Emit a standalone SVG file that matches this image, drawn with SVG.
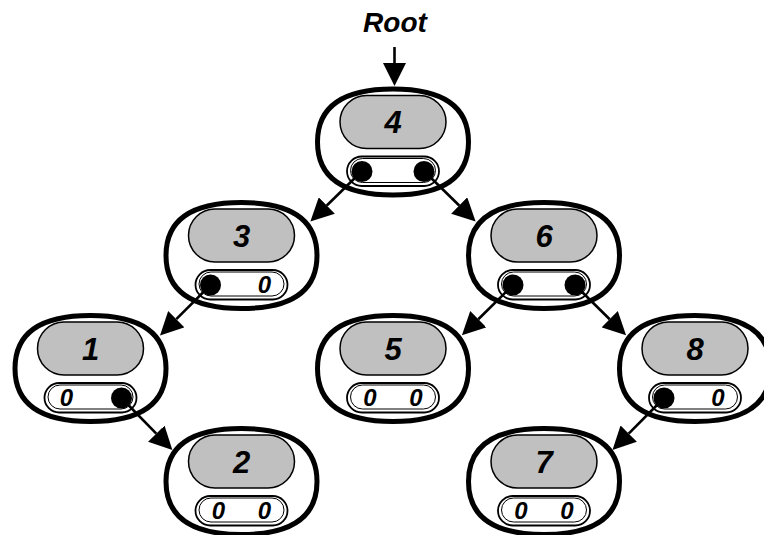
<svg xmlns="http://www.w3.org/2000/svg" width="764" height="535" viewBox="0 0 764 535">
<style>
.outer{fill:#fff;stroke:#000;stroke-width:5}
.key{fill:#c0c0c0;stroke:#000;stroke-width:1.5}
.ptr{fill:#fff;stroke:#000;stroke-width:1.8}
.ptr2{fill:none;stroke:#000;stroke-width:1}
.dot{fill:#000}
.lbl{font-family:"Liberation Sans",Arial,sans-serif;font-weight:bold;font-style:italic;font-size:31px;text-anchor:middle;fill:#000}
.nil{font-family:"Liberation Sans",Arial,sans-serif;font-weight:bold;font-style:italic;font-size:24px;text-anchor:middle;fill:#000}
.conn{stroke:#000;stroke-width:2.6;fill:none;marker-end:url(#ah)}
</style>
<defs>
<marker id="ah" markerUnits="userSpaceOnUse" markerWidth="23" markerHeight="23" viewBox="0 0 23 23" refX="0" refY="11.5" orient="auto">
<path d="M0,0 L23,11.5 L0,23 z" fill="#000"/>
</marker>
<g id="shell">
<path class="outer" d="M75.5,20 C75.5,55 50.5,73 0,73 C-50.5,73 -75.5,55 -75.5,20 C-75.5,-15 -50.5,-33 0,-33 C50.5,-33 75.5,-15 75.5,20 Z"/>
<rect class="key" x="-53" y="-26.5" width="106" height="53" rx="26.5"/>
<rect class="ptr" x="-46" y="34.5" width="92" height="29.5" rx="14.75"/>
<rect class="ptr2" x="-42.5" y="36.5" width="85" height="24" rx="12"/>
</g>
</defs>
<text x="395" y="32" class="lbl" style="font-size:28px">Root</text>
<g id="node4" transform="translate(393,122)">
<use href="#shell"/>
<text class="lbl" x="0" y="11">4</text>
<circle class="dot" cx="-31" cy="49.5" r="10.5"/>
<circle class="dot" cx="31" cy="49.5" r="10.5"/>
</g>
<g id="node3" transform="translate(241.5,235.5)">
<use href="#shell"/>
<text class="lbl" x="0" y="11">3</text>
<circle class="dot" cx="-31" cy="49.5" r="10.5"/>
<text class="nil" x="23" y="57">0</text>
</g>
<g id="node6" transform="translate(544,235.5)">
<use href="#shell"/>
<text class="lbl" x="0" y="11">6</text>
<circle class="dot" cx="-31" cy="49.5" r="10.5"/>
<circle class="dot" cx="31" cy="49.5" r="10.5"/>
</g>
<g id="node1" transform="translate(90.5,348.5)">
<use href="#shell"/>
<text class="lbl" x="0" y="11">1</text>
<text class="nil" x="-24" y="57">0</text>
<circle class="dot" cx="31" cy="49.5" r="10.5"/>
</g>
<g id="node5" transform="translate(393,348.5)">
<use href="#shell"/>
<text class="lbl" x="0" y="11">5</text>
<text class="nil" x="-23" y="57">0</text>
<text class="nil" x="23" y="57">0</text>
</g>
<g id="node8" transform="translate(695,348.5)">
<use href="#shell"/>
<text class="lbl" x="0" y="11">8</text>
<circle class="dot" cx="-31" cy="49.5" r="10.5"/>
<text class="nil" x="23" y="57">0</text>
</g>
<g id="node2" transform="translate(241.5,461.5)">
<use href="#shell"/>
<text class="lbl" x="0" y="11">2</text>
<text class="nil" x="-23" y="57">0</text>
<text class="nil" x="23" y="57">0</text>
</g>
<g id="node7" transform="translate(544,461.5)">
<use href="#shell"/>
<text class="lbl" x="0" y="11">7</text>
<text class="nil" x="-23" y="57">0</text>
<text class="nil" x="23" y="57">0</text>
</g>
<g id="connectors">
<line class="conn" x1="394.5" y1="47" x2="394.5" y2="63"/>
<line class="conn" x1="362" y1="171" x2="326.8" y2="205.5"/>
<line class="conn" x1="424" y1="171" x2="459.2" y2="205.5"/>
<line class="conn" x1="210.5" y1="285" x2="176.3" y2="319.2"/>
<line class="conn" x1="513" y1="285" x2="478.3" y2="319.2"/>
<line class="conn" x1="575" y1="285" x2="609.7" y2="319.2"/>
<line class="conn" x1="121.5" y1="398" x2="156.3" y2="433.6"/>
<line class="conn" x1="664" y1="398" x2="628.7" y2="433.6"/>
</g>
</svg>
